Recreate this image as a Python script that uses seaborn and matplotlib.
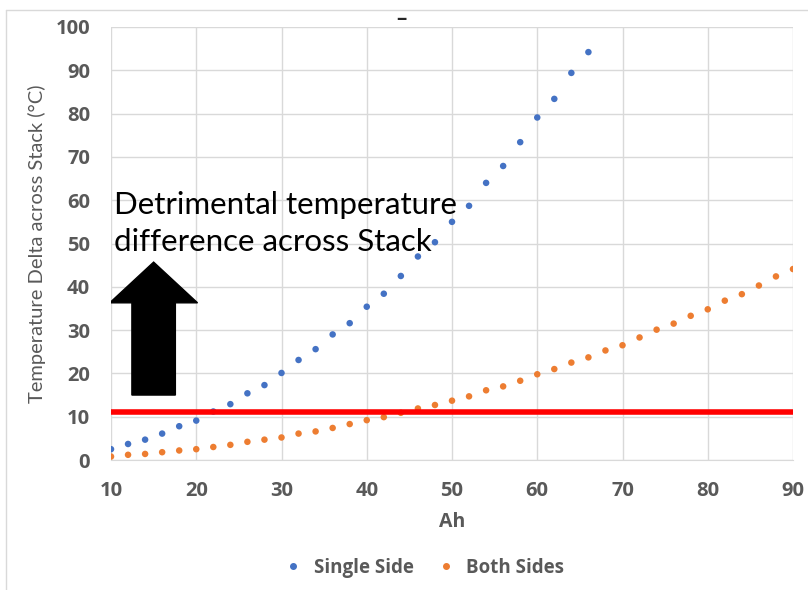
import matplotlib
matplotlib.use("Agg")
from matplotlib import pyplot as plt
from matplotlib.lines import Line2D
import seaborn as sns
import pandas as pd
import numpy as np

# data
ah_single = list(range(10, 67, 2))
dt_single = [2.5, 3.7, 4.7, 6.1, 7.8, 9.1, 11.2, 12.9, 15.4, 17.3,
             20.1, 23.1, 25.6, 29.0, 31.6, 35.4, 38.4, 42.5, 47.0, 50.3,
             55.0, 58.7, 64.0, 67.9, 73.4, 79.1, 83.4, 89.4, 94.2]
ah_both = list(range(10, 91, 2))
dt_both = [0.8, 1.2, 1.4, 1.8, 2.2, 2.5, 3.0, 3.5, 4.2, 4.7,
           5.2, 6.1, 6.6, 7.4, 8.3, 9.2, 9.9, 10.9, 11.9, 12.7,
           13.7, 14.7, 16.1, 17.0, 18.3, 19.8, 21.0, 22.5, 23.7, 25.3,
           26.5, 28.3, 30.1, 31.5, 33.3, 34.8, 36.8, 38.3, 40.3, 42.4, 44.1]
series = ["Single Side", "Both Sides"]
colors = ["#4472C4", "#ED7D31"]
limit = 11

df = pd.concat([
    pd.DataFrame({"Ah": ah_single, "dT": dt_single, "series": series[0]}),
    pd.DataFrame({"Ah": ah_both, "dT": dt_both, "series": series[1]}),
])

sns.set_style("white")
plt.rcParams['font.family'] = ['Lato', 'DejaVu Sans']
gray = "#595959"
boldfont = ['Open Sans', 'DejaVu Sans']

fig = plt.figure(figsize=(8.08, 5.90), dpi=100)
ax = fig.add_axes([111/808, 1-460/590, (793-111)/808, (460-27)/590])

sns.scatterplot(data=df, x="Ah", y="dT", hue="series", palette=colors,
                s=22, linewidth=0, legend=False, ax=ax, zorder=3)

ax.axhline(limit, color="red", lw=4, zorder=4)
ax.arrow(15, 15, 0, 30.7, width=5.1, head_width=10.3, head_length=9.4,
         length_includes_head=True, color="black", zorder=5)
ax.text(10.4, 48.3, "Detrimental temperature\ndifference across Stack",
        fontsize=22.5, color="black", ha="left", va="baseline",
        linespacing=1.38, zorder=6)

ax.set_xlim(10, 90)
ax.set_ylim(0, 100)
ax.set_xticks(range(10, 91, 10))
ax.set_yticks(range(0, 101, 10))
ax.grid(True, color="#D9D9D9", lw=1)
for s in ["top", "right", "left"]:
    ax.spines[s].set_visible(False)
ax.spines["bottom"].set_color("#D9D9D9")
ax.tick_params(length=0, labelcolor=gray)
ax.tick_params(axis="x", pad=15)
ax.tick_params(axis="y", pad=15)
for lab in ax.get_xticklabels() + ax.get_yticklabels():
    lab.set_fontfamily(boldfont)
    lab.set_fontweight("bold")
    lab.set_fontsize(14.5)
ax.set_xlabel("Ah", fontsize=14, fontweight="bold", family=boldfont,
              color=gray, labelpad=8)
ax.set_ylabel("Temperature Delta across Stack (\u00b0C)", fontsize=14.5,
              color=gray, labelpad=7)

handles = [Line2D([], [], marker="o", ls="", color=c, markersize=4) for c in colors]
fig.legend(handles, series, loc="center", bbox_to_anchor=(0.519, 1-568/590),
           ncol=2, frameon=False, handletextpad=0.1, columnspacing=0.7,
           prop={"size": 13.5, "weight": "bold", "family": boldfont},
           labelcolor=gray)

# chart frame
fig.add_artist(Line2D([6/808, 6/808], [0, 1-10/590], color="#D9D9D9", lw=1,
                      transform=fig.transFigure))
fig.add_artist(Line2D([6/808, 1], [1-10/590, 1-10/590], color="#D9D9D9", lw=1,
                      transform=fig.transFigure))
fig.text(0.497, 1.0, "_", fontsize=16, fontweight="bold", ha="center", va="top")

fig.savefig("out.png", dpi=100)
